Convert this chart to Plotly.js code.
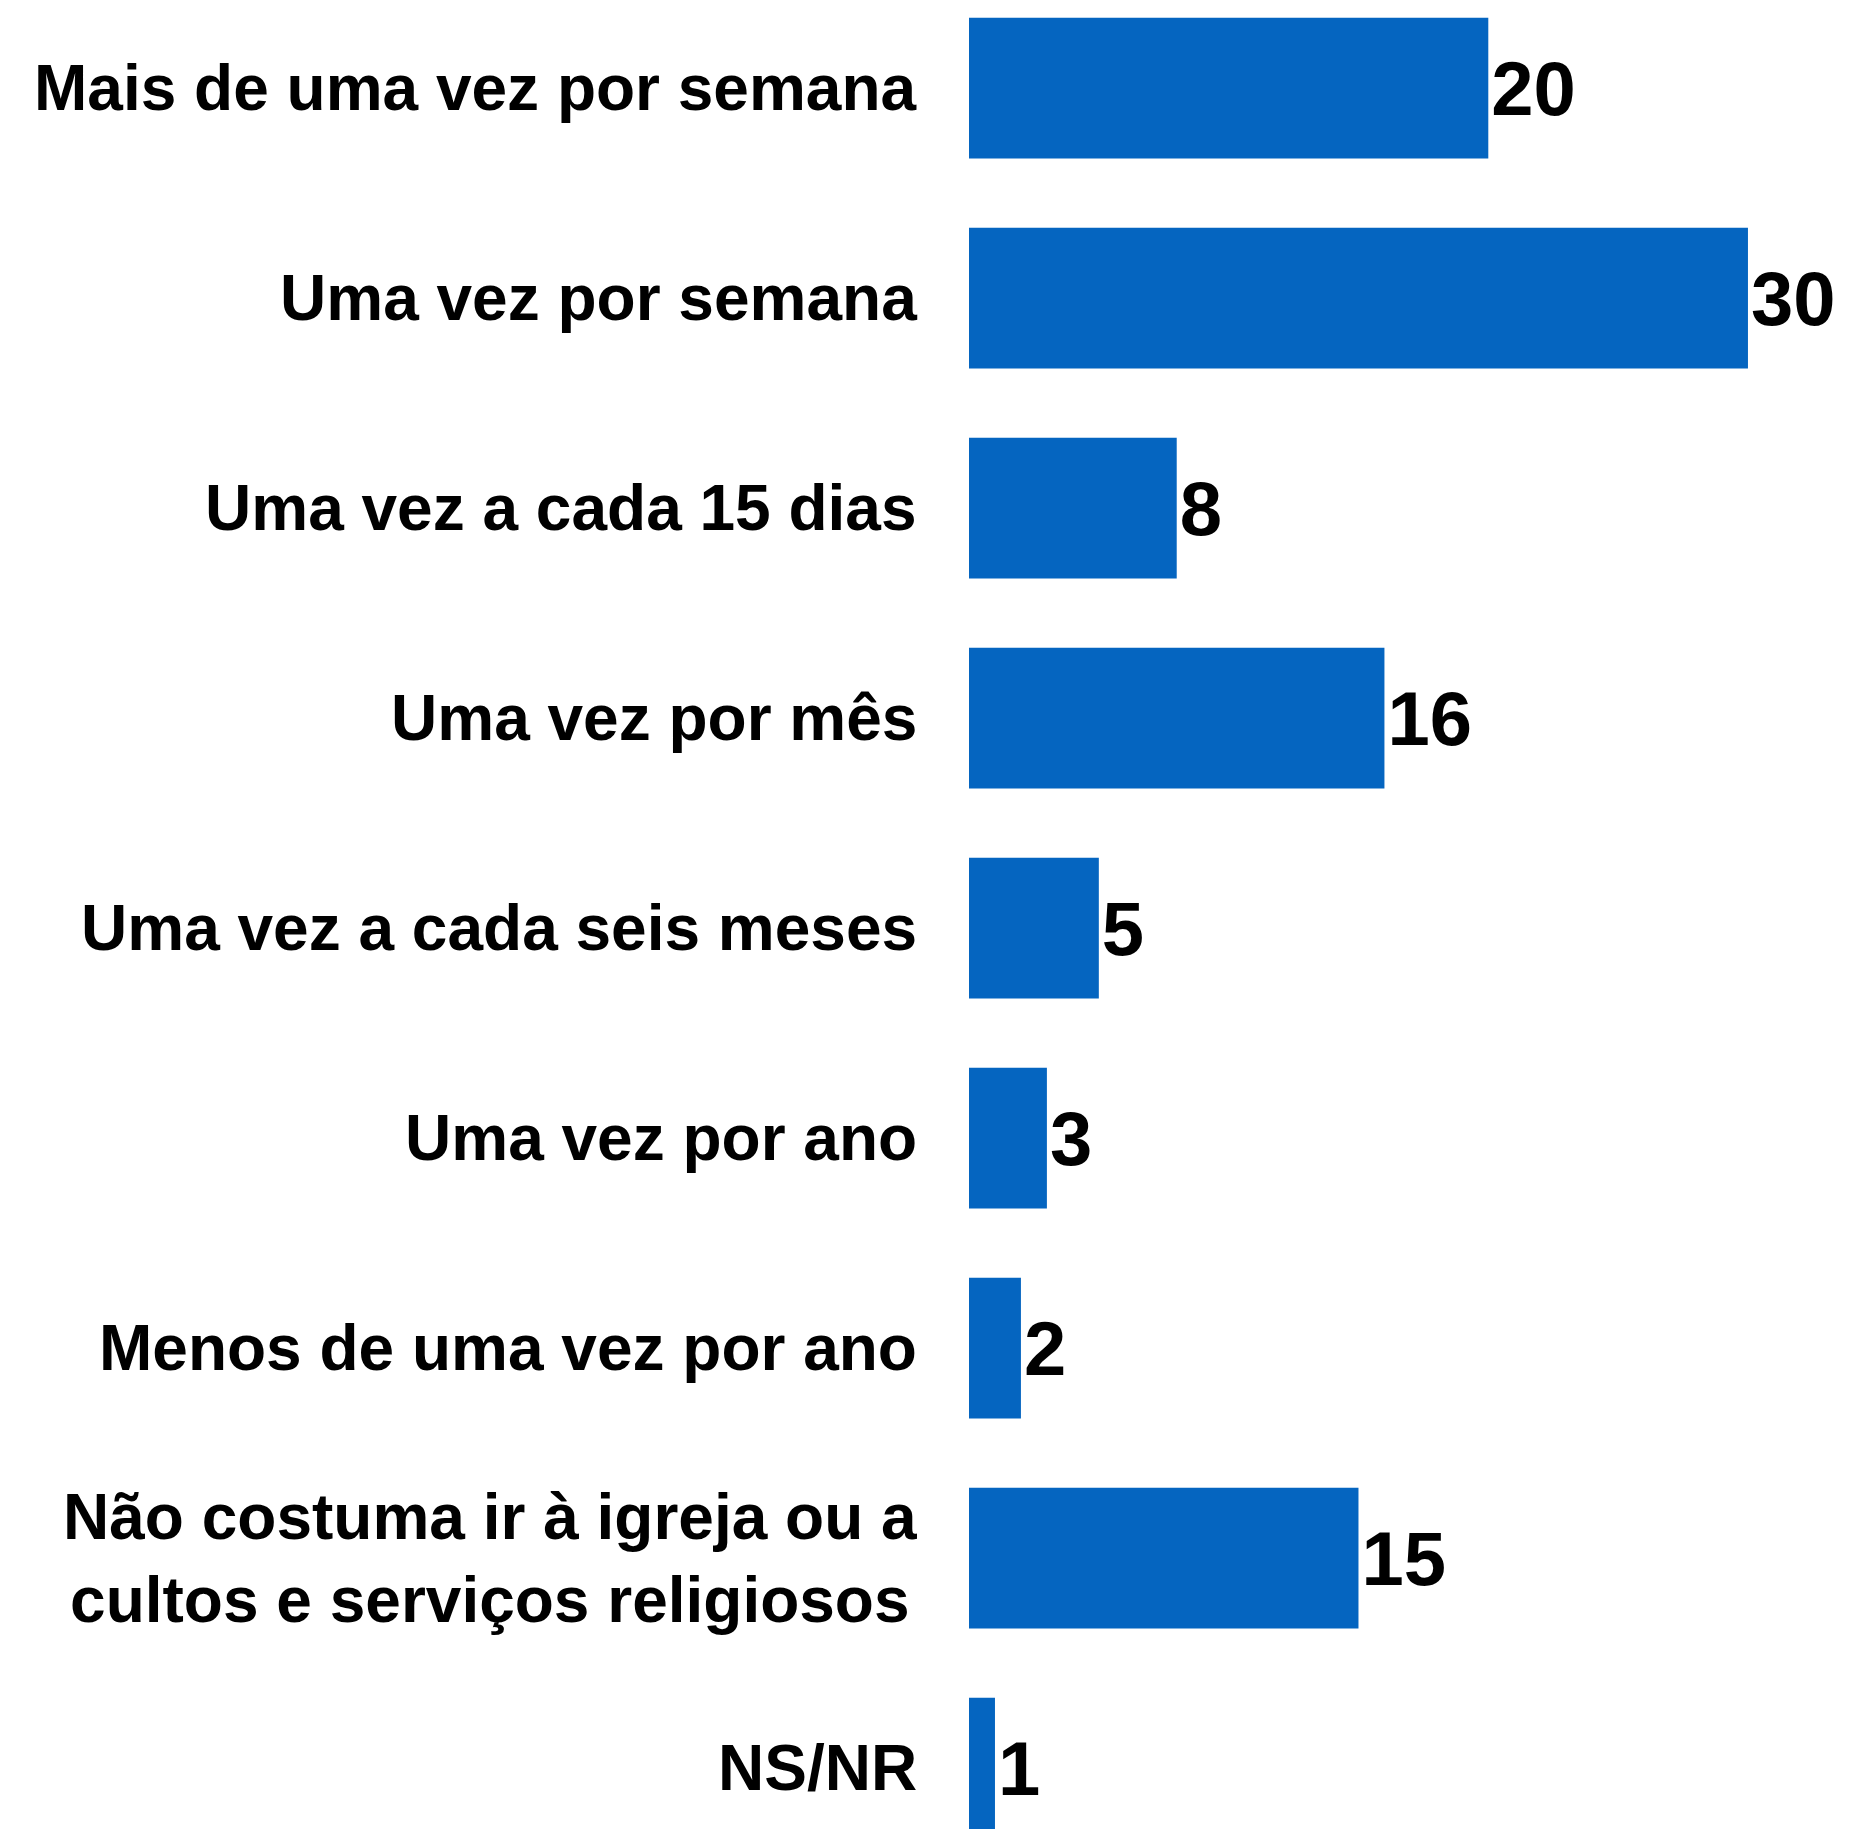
<!DOCTYPE html>
<html>
<head>
<meta charset="utf-8">
<script src="https://cdn.plot.ly/plotly-3.0.1.min.js"></script>
<style>
  html, body { margin: 0; padding: 0; background: #ffffff; }
  #chart { width: 1850px; height: 1829px; }
</style>
</head>
<body>
<div id="chart"></div>
<script>
const categories = [
  "Mais de uma vez por semana",
  "Uma vez por semana",
  "Uma vez a cada 15 dias",
  "Uma vez por mês",
  "Uma vez a cada seis meses",
  "Uma vez por ano",
  "Menos de uma vez por ano",
  "Não costuma ir à igreja ou a<br>cultos e serviços religiosos",
  "NS/NR"
];
const values = [20, 30, 8, 16, 5, 3, 2, 15, 1];
const valueLabels = ["20", "30", "8", "16", "5", "3", "2", "15", "1"];

const FONT = '"Liberation Sans", Arial, Helvetica, sans-serif';
const BAR_COLOR = '#0565c0';

const trace = {
  type: 'bar',
  orientation: 'h',
  x: values,
  y: categories,
  text: valueLabels,
  textposition: 'outside',
  constraintext: 'none',
  cliponaxis: false,
  textfont: { family: FONT, size: 76, color: '#000000', weight: 700 },
  marker: { color: BAR_COLOR, line: { width: 0 } },
  hoverinfo: 'none'
};

const annotations = categories.map(c => ({
  xref: 'paper',
  yref: 'y',
  x: 0,
  y: c,
  xanchor: 'right',
  yanchor: 'middle',
  xshift: -50,
  align: 'center',
  showarrow: false,
  text: c,
  font: { family: FONT, size: 64, color: '#000000', weight: 700 }
}));

const layout = {
  width: 1850,
  height: 1829,
  margin: { l: 969, r: 0, t: 0, b: 0, pad: 0 },
  paper_bgcolor: '#ffffff',
  plot_bgcolor: '#ffffff',
  showlegend: false,
  bargap: 0.33,
  font: { family: FONT, color: '#000000' },
  xaxis: {
    range: [0, 33.93],
    showgrid: false,
    zeroline: false,
    showline: false,
    showticklabels: false,
    ticks: ''
  },
  yaxis: {
    type: 'category',
    categoryorder: 'array',
    categoryarray: categories,
    range: [8.29, -0.42],
    showgrid: false,
    zeroline: false,
    showline: false,
    showticklabels: false,
    ticks: ''
  },
  annotations: annotations
};

Plotly.newPlot('chart', [trace], layout, { staticPlot: true, displayModeBar: false });
</script>
</body>
</html>
